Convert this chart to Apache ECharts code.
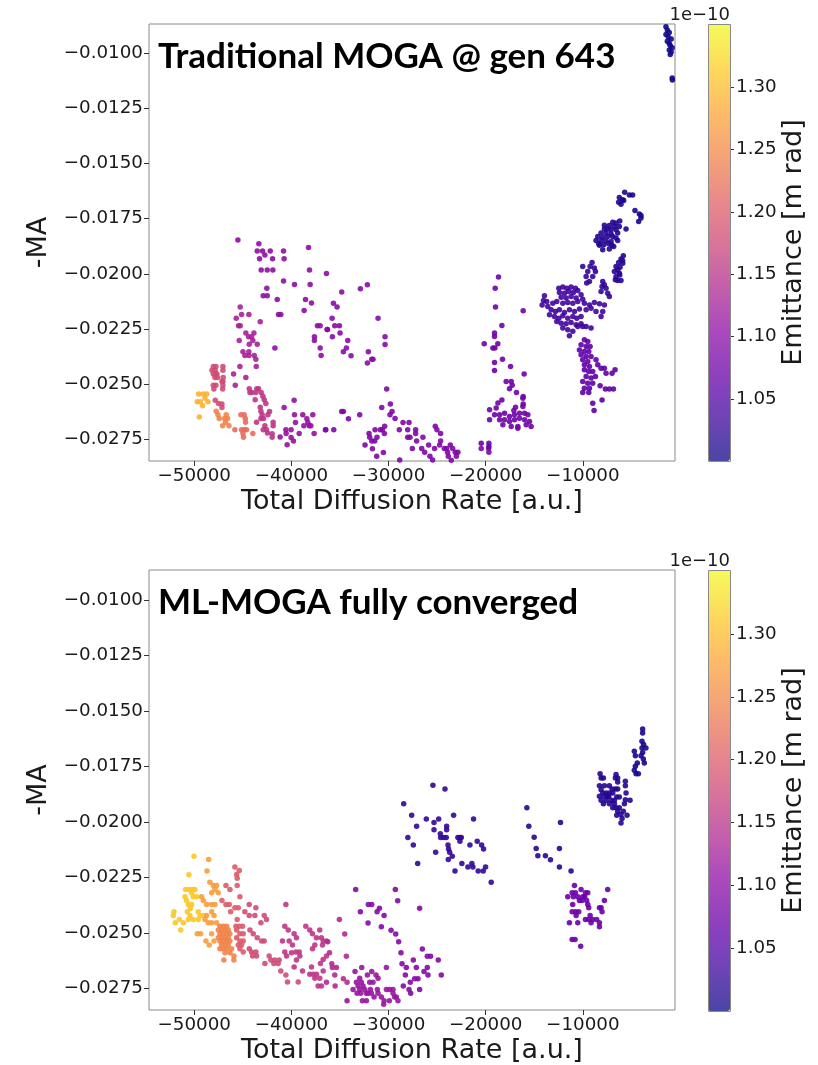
<!DOCTYPE html>
<html><head><meta charset="utf-8">
<script src="https://cdn.jsdelivr.net/npm/echarts@6/dist/echarts.min.js"></script>
<style>html,body{margin:0;padding:0;background:#fff}#c{width:818px;height:1065px}</style>
</head><body><div id="c"></div>
<script>
// ---------- tick labels ----------
const xTicks = [-50000, -40000, -30000, -20000, -10000];
const yTicks = [-0.0100, -0.0125, -0.0150, -0.0175, -0.0200, -0.0225, -0.0250, -0.0275];
const cbTicks = [1.05, 1.10, 1.15, 1.20, 1.25, 1.30];
const titles = ['Traditional MOGA @ gen 643', 'ML-MOGA fully converged'];
const xName = 'Total Diffusion Rate [a.u.]';
const yName = '-MA';
const cbName = 'Emittance [m rad]';
const cbExp = '1e\u221210';
const xRange = [-54660, -510];
const yRangeTop = [-0.02849, -0.00867];
const yRangeBot = [-0.02848, -0.00865];
const emitRange = [1.0003, 1.3508];

// ---------- TOP panel clusters: [x, y], emittance (x1e-10) per cluster ----------
const topCorner = [[-1440,-0.00880],[-1300,-0.00894],[-1100,-0.00905],[-1440,-0.00915],[-1200,-0.00926],[-900,-0.00935],[-1300,-0.00945],[-1100,-0.00955],[-1000,-0.00965],[-800,-0.00975],[-1100,-0.00985],[-900,-0.00994],[-1000,-0.01005],[-800,-0.01112],[-780,-0.01121]];
const topCornerE = 1.004;
const topBlueTop = [[-5690,-0.01630],[-5210,-0.01642],[-4870,-0.01642],[-6240,-0.01654],[-5890,-0.01664],[-6310,-0.01676],[-6070,-0.01684],[-5790,-0.01667],[-4630,-0.01713],[-4180,-0.01729],[-4010,-0.01747],[-4250,-0.01763],[-4010,-0.01735]];
const topBlueTopE = 1.010;
const topBlueUpper = [[-6920,-0.01766],[-6580,-0.01770],[-7270,-0.01781],[-6750,-0.01785],[-6240,-0.01785],[-7780,-0.01797],[-7440,-0.01797],[-7090,-0.01800],[-6580,-0.01800],[-8120,-0.01815],[-7610,-0.01815],[-7090,-0.01819],[-6410,-0.01815],[-8460,-0.01831],[-7950,-0.01834],[-7440,-0.01831],[-6920,-0.01831],[-6580,-0.01838],[-8640,-0.01849],[-8120,-0.01849],[-7610,-0.01850],[-7090,-0.01853],[-6410,-0.01849],[-8360,-0.01864],[-7850,-0.01868],[-7330,-0.01864],[-6820,-0.01876],[-7950,-0.01891],[-7270,-0.01887],[-5550,-0.01797],[-7780,-0.01780],[-8290,-0.01870],[-7000,-0.01870],[-6200,-0.01760]];
const topBlueUpperE = 1.015;
const topBlueColumn = [[-5830,-0.01918],[-6070,-0.01933],[-6310,-0.01949],[-5890,-0.01952],[-6580,-0.01967],[-6170,-0.01970],[-6410,-0.01982],[-6750,-0.01989],[-6240,-0.01997],[-6580,-0.02012],[-6070,-0.02030],[-6410,-0.02030],[-6650,-0.02027],[-5900,-0.01940],[-6200,-0.02005]];
const topBlueColumnE = 1.018;
const topBlueDiag = [[-9050,-0.01949],[-10010,-0.01967],[-9250,-0.01967],[-8810,-0.01974],[-9490,-0.01989],[-8700,-0.01989],[-9660,-0.02012],[-8980,-0.02012],[-9320,-0.02035],[-7950,-0.02035],[-7780,-0.02050],[-8020,-0.02057],[-7610,-0.02065],[-8120,-0.02080],[-7440,-0.02088],[-7270,-0.02103],[-9600,-0.02042]];
const topBlueDiagE = 1.025;
const topBlueMain = [[-12470,-0.02065],[-12060,-0.02060],[-11650,-0.02065],[-11210,-0.02060],[-10760,-0.02065],[-12410,-0.02085],[-11890,-0.02088],[-11450,-0.02080],[-10970,-0.02085],[-10520,-0.02076],[-10180,-0.02095],[-12230,-0.02106],[-11720,-0.02110],[-11210,-0.02103],[-10690,-0.02110],[-10010,-0.02115],[-13950,-0.02100],[-14050,-0.02121],[-13710,-0.02126],[-14190,-0.02141],[-13610,-0.02148],[-13090,-0.02133],[-12680,-0.02126],[-12060,-0.02133],[-11550,-0.02130],[-11030,-0.02133],[-10520,-0.02126],[-9840,-0.02133],[-9320,-0.02141],[-8810,-0.02130],[-8290,-0.02136],[-7780,-0.02141],[-13260,-0.02163],[-12820,-0.02171],[-12410,-0.02163],[-11890,-0.02175],[-11380,-0.02163],[-10860,-0.02171],[-10350,-0.02160],[-9660,-0.02163],[-9150,-0.02156],[-8640,-0.02171],[-7950,-0.02171],[-8120,-0.02194],[-13430,-0.02186],[-12920,-0.02194],[-12470,-0.02201],[-12060,-0.02190],[-11550,-0.02201],[-11030,-0.02194],[-10620,-0.02201],[-10180,-0.02194],[-12680,-0.02216],[-12230,-0.02224],[-11720,-0.02227],[-11210,-0.02221],[-10690,-0.02231],[-10180,-0.02227],[-9660,-0.02239],[-9150,-0.02246],[-12060,-0.02246],[-11550,-0.02254],[-11030,-0.02261],[-11380,-0.02281],[-10520,-0.02239],[-10010,-0.02239]];
const topBlueMainE = 1.035;
const topPurpleVert = [[-9840,-0.02299],[-9490,-0.02307],[-10180,-0.02322],[-9660,-0.02330],[-9250,-0.02330],[-10350,-0.02345],[-9840,-0.02352],[-9390,-0.02352],[-10180,-0.02367],[-9660,-0.02375],[-9150,-0.02375],[-10010,-0.02390],[-9490,-0.02398],[-8640,-0.02390],[-9840,-0.02413],[-9320,-0.02420],[-8460,-0.02413],[-8120,-0.02428],[-7780,-0.02428],[-9840,-0.02435],[-9390,-0.02443],[-8980,-0.02443],[-7610,-0.02451],[-6990,-0.02451],[-6680,-0.02435],[-9660,-0.02466],[-9150,-0.02473],[-8700,-0.02466],[-10010,-0.02488],[-9490,-0.02496],[-8980,-0.02496],[-9840,-0.02519],[-9320,-0.02519],[-8220,-0.02508],[-7680,-0.02523],[-7270,-0.02523],[-6850,-0.02523],[-10010,-0.02538],[-9390,-0.02538],[-8980,-0.02587],[-8020,-0.02572],[-8840,-0.02620]];
const topPurpleVertE = 1.06;
const topPurpleCol = [[-18680,-0.02015],[-19020,-0.02066],[-18990,-0.02150],[-16140,-0.02168],[-18330,-0.02234],[-19090,-0.02269],[-19090,-0.02284],[-18750,-0.02317],[-19260,-0.02337],[-19050,-0.02337],[-20150,-0.02317],[-19090,-0.02402],[-18270,-0.02387],[-17440,-0.02420],[-19090,-0.02438],[-16040,-0.02454],[-17890,-0.02488],[-17370,-0.02488],[-17550,-0.02521],[-17270,-0.02505],[-16830,-0.02538],[-18330,-0.02572],[-16140,-0.02556],[-16140,-0.02590],[-16930,-0.02605],[-17100,-0.02620],[-18740,-0.02586],[-18920,-0.02609],[-19600,-0.02617],[-19090,-0.02639],[-18570,-0.02639],[-18060,-0.02632],[-17550,-0.02647],[-17030,-0.02639],[-16520,-0.02632],[-16000,-0.02632],[-15660,-0.02639],[-18570,-0.02662],[-18060,-0.02662],[-17550,-0.02670],[-17030,-0.02662],[-16520,-0.02655],[-16000,-0.02662],[-15490,-0.02670],[-18230,-0.02685],[-17370,-0.02692],[-16690,-0.02692],[-15830,-0.02685],[-15320,-0.02692],[-19600,-0.02662],[-16170,-0.02602],[-16170,-0.02564],[-16690,-0.02700],[-20460,-0.02768],[-19670,-0.02768],[-19670,-0.02783]];
const topPurpleColE = 1.075;
const topPurpleBottom = [[-30190,-0.02523],[-29810,-0.02590],[-30700,-0.02606],[-29850,-0.02639],[-29640,-0.02624],[-29330,-0.02656],[-34820,-0.02624],[-34650,-0.02624],[-32970,-0.02639],[-34130,-0.02657],[-36460,-0.02707],[-35640,-0.02707],[-30400,-0.02691],[-28510,-0.02674],[-27890,-0.02674],[-28890,-0.02707],[-28030,-0.02707],[-27210,-0.02707],[-32010,-0.02724],[-31390,-0.02707],[-30840,-0.02707],[-30640,-0.02707],[-30430,-0.02724],[-31940,-0.02741],[-31190,-0.02741],[-31730,-0.02758],[-31420,-0.02758],[-32420,-0.02776],[-31660,-0.02794],[-30530,-0.02810],[-31220,-0.02827],[-28030,-0.02741],[-27790,-0.02741],[-27210,-0.02724],[-27110,-0.02758],[-26460,-0.02741],[-27550,-0.02792],[-26590,-0.02792],[-26280,-0.02809],[-25740,-0.02827],[-25460,-0.02844],[-25870,-0.02776],[-25260,-0.02792],[-24740,-0.02776],[-24640,-0.02758],[-25190,-0.02691],[-25020,-0.02707],[-24640,-0.02724],[-24260,-0.02792],[-24020,-0.02792],[-23920,-0.02809],[-23640,-0.02776],[-23400,-0.02792],[-23130,-0.02809],[-22860,-0.02809],[-23540,-0.02846],[-23850,-0.02827],[-23020,-0.02827],[-20460,-0.02792],[-19700,-0.02792],[-19670,-0.02809],[-28850,-0.02845]];
const topPurpleBottomE = 1.09;
const topPurpleMid = [[-36390,-0.01999],[-32180,-0.02050],[-32900,-0.02068],[-34820,-0.02083],[-35670,-0.02133],[-35300,-0.02151],[-35810,-0.02201],[-36290,-0.02253],[-35540,-0.02236],[-35060,-0.02236],[-34990,-0.02269],[-35780,-0.02286],[-34200,-0.02302],[-34340,-0.02337],[-34650,-0.02354],[-33860,-0.02372],[-31080,-0.02201],[-30360,-0.02286],[-30360,-0.02321],[-32080,-0.02354],[-31730,-0.02387],[-31600,-0.02387],[-32180,-0.02404]];
const topPurpleMidE = 1.10;
const topPurpleUpper = [[-45510,-0.01847],[-43350,-0.01864],[-43520,-0.01897],[-42970,-0.01897],[-42730,-0.01915],[-42180,-0.01897],[-40810,-0.01897],[-43280,-0.01932],[-41940,-0.01932],[-40750,-0.01932],[-38240,-0.01881],[-43110,-0.01983],[-42490,-0.01983],[-41910,-0.01983],[-38140,-0.01983],[-40810,-0.02033],[-39680,-0.02048],[-38070,-0.02048],[-42530,-0.02066],[-42900,-0.02100],[-42490,-0.02100],[-41460,-0.02116],[-38550,-0.02116],[-37930,-0.02132],[-38690,-0.02166],[-41330,-0.02185],[-41090,-0.02185],[-37320,-0.02236],[-37040,-0.02236],[-36320,-0.02253],[-37630,-0.02286],[-37630,-0.02302],[-41700,-0.02336],[-37040,-0.02336],[-36940,-0.02370]];
const topPurpleUpperE = 1.105;
const topPurpleLow = [[-40750,-0.02606],[-39720,-0.02573],[-39680,-0.02639],[-38830,-0.02639],[-37800,-0.02639],[-39580,-0.02674],[-38410,-0.02657],[-38310,-0.02674],[-38170,-0.02689],[-40570,-0.02707],[-40540,-0.02724],[-40030,-0.02707],[-39200,-0.02724],[-38720,-0.02689],[-38000,-0.02689],[-37660,-0.02724],[-36500,-0.02707],[-40030,-0.02742],[-39790,-0.02758],[-40440,-0.02775],[-41160,-0.02740]];
const topPurpleLowE = 1.11;
const topMagenta = [[-45270,-0.02151],[-45130,-0.02185],[-44380,-0.02185],[-45680,-0.02201],[-43210,-0.02218],[-45440,-0.02236],[-45270,-0.02236],[-44690,-0.02269],[-44410,-0.02286],[-43860,-0.02269],[-44100,-0.02286],[-45370,-0.02302],[-43970,-0.02302],[-44340,-0.02319],[-43520,-0.02319],[-44990,-0.02354],[-44380,-0.02354],[-44790,-0.02370],[-44380,-0.02370],[-43830,-0.02370],[-43660,-0.02387],[-45300,-0.02420],[-43620,-0.02420],[-45950,-0.02454],[-44690,-0.02470],[-45780,-0.02505]];
const topMagentaE = 1.13;
const topMagRed = [[-44340,-0.02521],[-43560,-0.02521],[-43380,-0.02521],[-44070,-0.02538],[-43660,-0.02538],[-44270,-0.02538],[-43110,-0.02538],[-42940,-0.02555],[-42800,-0.02571],[-42630,-0.02588],[-43730,-0.02571],[-43210,-0.02605],[-43140,-0.02623],[-43010,-0.02639],[-42420,-0.02639],[-42250,-0.02624],[-43140,-0.02656],[-42870,-0.02656],[-41880,-0.02673],[-41880,-0.02689],[-42730,-0.02689],[-42560,-0.02707],[-42900,-0.02707],[-42460,-0.02722],[-43590,-0.02673],[-41980,-0.02725],[-41980,-0.02741]];
const topMagRedE = 1.155;
const topRed = [[-48040,-0.02420],[-47770,-0.02420],[-47050,-0.02420],[-48180,-0.02437],[-47840,-0.02437],[-47050,-0.02437],[-48040,-0.02454],[-47770,-0.02454],[-47670,-0.02454],[-47870,-0.02470],[-47600,-0.02470],[-47020,-0.02470],[-47150,-0.02488],[-47050,-0.02488],[-48040,-0.02505],[-47770,-0.02505],[-47050,-0.02505],[-47980,-0.02522],[-47080,-0.02522],[-47840,-0.02573],[-47500,-0.02588],[-47150,-0.02590],[-47150,-0.02606]];
const topRedE = 1.18;
const topOrangeB = [[-45820,-0.02707],[-45200,-0.02639],[-44860,-0.02639],[-44750,-0.02656],[-44720,-0.02673],[-45130,-0.02707],[-44860,-0.02707],[-44620,-0.02707],[-44990,-0.02724],[-44930,-0.02741],[-43970,-0.02724]];
const topOrangeBE = 1.22;
const topOrange = [[-47740,-0.02623],[-47560,-0.02639],[-47430,-0.02656],[-46710,-0.02639],[-46880,-0.02656],[-46570,-0.02656],[-47080,-0.02689],[-46430,-0.02689],[-46780,-0.02673]];
const topOrangeE = 1.245;
const topYellow = [[-49550,-0.02545],[-49070,-0.02545],[-48730,-0.02545],[-49690,-0.02580],[-49380,-0.02580],[-49140,-0.02598],[-48590,-0.02580],[-48900,-0.02564],[-49480,-0.02650]];
const topYellowE = 1.29;

// ---------- BOTTOM panel clusters ----------
const botYellow = [[-50030,-0.02155],[-50550,-0.02239],[-50890,-0.02305],[-50550,-0.02305],[-50170,-0.02305],[-49930,-0.02305],[-50960,-0.02338],[-50270,-0.02320],[-50100,-0.02338],[-49760,-0.02338],[-50610,-0.02372],[-50270,-0.02372],[-52090,-0.02405],[-52160,-0.02422],[-50720,-0.02405],[-50440,-0.02422],[-49590,-0.02405],[-49410,-0.02422],[-49070,-0.02422],[-51950,-0.02455],[-51540,-0.02440],[-51130,-0.02455],[-51400,-0.02488],[-50610,-0.02440],[-50100,-0.02440],[-49590,-0.02440],[-50400,-0.02390],[-50800,-0.02355]];
const botYellowE = 1.31;
const botOrangeLight = [[-48520,-0.02170],[-48690,-0.02221],[-48390,-0.02272],[-48040,-0.02287],[-47700,-0.02287],[-47870,-0.02305],[-48210,-0.02320],[-47530,-0.02320],[-49240,-0.02338],[-49070,-0.02354],[-48730,-0.02372],[-48210,-0.02372],[-47870,-0.02372],[-48730,-0.02422],[-48210,-0.02405],[-47970,-0.02422],[-48900,-0.02440],[-48560,-0.02455],[-48210,-0.02455],[-47700,-0.02455],[-49690,-0.02504],[-49350,-0.02504],[-48210,-0.02504],[-48800,-0.02537],[-48460,-0.02555],[-47970,-0.02537]];
const botOrangeLightE = 1.27;
const botOrange = [[-47360,-0.02470],[-47020,-0.02470],[-46670,-0.02470],[-47530,-0.02488],[-47190,-0.02488],[-46840,-0.02488],[-46500,-0.02488],[-47360,-0.02504],[-47020,-0.02504],[-46670,-0.02504],[-46330,-0.02504],[-47530,-0.02522],[-47190,-0.02522],[-46840,-0.02522],[-46500,-0.02522],[-47360,-0.02537],[-47020,-0.02537],[-46670,-0.02537],[-46330,-0.02537],[-47190,-0.02555],[-46840,-0.02555],[-46500,-0.02555],[-47360,-0.02572],[-47020,-0.02572],[-46670,-0.02572],[-46160,-0.02572],[-46840,-0.02590],[-46330,-0.02590],[-46950,-0.02623],[-45920,-0.02605],[-45920,-0.02623]];
const botOrangeE = 1.245;
const botPink = [[-45820,-0.02203],[-45370,-0.02219],[-45640,-0.02237],[-45580,-0.02254],[-46740,-0.02287],[-46330,-0.02305],[-45580,-0.02287],[-47150,-0.02354],[-46740,-0.02372],[-46400,-0.02372],[-45820,-0.02387],[-45470,-0.02387],[-45300,-0.02338],[-46260,-0.02405],[-45580,-0.02440],[-45710,-0.02470],[-45370,-0.02470],[-45030,-0.02470],[-45640,-0.02488],[-45300,-0.02504],[-44960,-0.02504],[-45640,-0.02522],[-45300,-0.02537],[-44960,-0.02537],[-45470,-0.02555],[-45130,-0.02555],[-45300,-0.02572],[-44960,-0.02587]];
const botPinkE = 1.20;
const botPinkRed = [[-44340,-0.02372],[-43660,-0.02387],[-44790,-0.02405],[-44340,-0.02422],[-43760,-0.02422],[-43140,-0.02455],[-42800,-0.02422],[-42560,-0.02440],[-44270,-0.02488],[-43930,-0.02504],[-43520,-0.02522],[-43070,-0.02537],[-42800,-0.02537],[-44340,-0.02572],[-44100,-0.02587],[-43660,-0.02587],[-44000,-0.02605],[-43590,-0.02605],[-42290,-0.02605],[-42110,-0.02623],[-41700,-0.02623],[-41260,-0.02623],[-42730,-0.02638],[-41810,-0.02638],[-41090,-0.02672],[-40570,-0.02690],[-40400,-0.02722],[-39300,-0.02722],[-41360,-0.02638]];
const botPinkRedE = 1.18;
const botMagenta = [[-40570,-0.02372],[-40680,-0.02470],[-40330,-0.02488],[-39720,-0.02504],[-39480,-0.02522],[-40920,-0.02537],[-40230,-0.02537],[-39890,-0.02555],[-40680,-0.02587],[-40500,-0.02605],[-39990,-0.02590],[-39540,-0.02587],[-39200,-0.02587],[-39130,-0.02605],[-39480,-0.02623],[-39720,-0.02654],[-38860,-0.02672],[-38520,-0.02470],[-38110,-0.02488],[-37830,-0.02504],[-37080,-0.02488],[-36910,-0.02522],[-37420,-0.02522],[-36730,-0.02537],[-37590,-0.02555],[-36800,-0.02555],[-37830,-0.02572],[-36390,-0.02605],[-36730,-0.02620],[-37010,-0.02638],[-37930,-0.02654],[-36730,-0.02672],[-38110,-0.02687],[-37760,-0.02687],[-37420,-0.02687],[-37080,-0.02705],[-37590,-0.02705],[-37250,-0.02740],[-36910,-0.02740],[-36390,-0.02537]];
const botMagentaE = 1.155;
const botMagenta2 = [[-35060,-0.02440],[-34510,-0.02506],[-36260,-0.02540],[-36080,-0.02590],[-34340,-0.02606],[-35840,-0.02639],[-35370,-0.02657],[-35780,-0.02657],[-36390,-0.02723],[-35540,-0.02690],[-34650,-0.02707],[-34270,-0.02723],[-35500,-0.02740]];
const botMagenta2E = 1.14;
const botPurpleLow = [[-33650,-0.02756],[-33310,-0.02723],[-33140,-0.02740],[-32970,-0.02756],[-32800,-0.02723],[-32620,-0.02740],[-32450,-0.02756],[-32280,-0.02773],[-33240,-0.02773],[-32860,-0.02773],[-32110,-0.02773],[-31870,-0.02756],[-31770,-0.02773],[-31490,-0.02789],[-31150,-0.02756],[-30740,-0.02789],[-30220,-0.02756],[-29880,-0.02756],[-29540,-0.02756],[-29540,-0.02773],[-29370,-0.02789],[-29200,-0.02789],[-29030,-0.02806],[-30460,-0.02806],[-29920,-0.02806],[-32280,-0.02806],[-32690,-0.02806],[-30500,-0.02822],[-34270,-0.02806],[-31600,-0.02723],[-31940,-0.02723],[-31080,-0.02773],[-33450,-0.02674],[-32180,-0.02690],[-32970,-0.02705],[-32760,-0.02657],[-31730,-0.02674],[-31290,-0.02690],[-31080,-0.02705],[-30220,-0.02657]];
const botPurpleLowE = 1.115;
const botPurple = [[-33380,-0.02305],[-29300,-0.02305],[-29060,-0.02356],[-26800,-0.02389],[-32080,-0.02372],[-31730,-0.02372],[-30940,-0.02389],[-32900,-0.02405],[-31180,-0.02405],[-30460,-0.02422],[-32110,-0.02456],[-30740,-0.02473],[-29740,-0.02489],[-29260,-0.02506],[-28960,-0.02540],[-28720,-0.02590],[-28610,-0.02639],[-26520,-0.02573],[-27450,-0.02623],[-26010,-0.02606],[-25670,-0.02606],[-24880,-0.02623],[-28170,-0.02657],[-27140,-0.02657],[-26010,-0.02657],[-26350,-0.02674],[-28270,-0.02690],[-25940,-0.02690],[-24570,-0.02690],[-27310,-0.02707],[-26970,-0.02707],[-27760,-0.02723],[-28480,-0.02740],[-27890,-0.02756],[-27720,-0.02773],[-26800,-0.02756]];
const botPurpleE = 1.095;
const botBlueMid = [[-25430,-0.01835],[-24190,-0.01852],[-28440,-0.01919],[-27620,-0.01970],[-26110,-0.01987],[-25320,-0.02003],[-24840,-0.01987],[-23300,-0.01970],[-21250,-0.01987],[-27110,-0.02020],[-25320,-0.02036],[-24020,-0.02020],[-24020,-0.02036],[-24670,-0.02054],[-24640,-0.02071],[-24330,-0.02071],[-24060,-0.02071],[-22860,-0.02071],[-22650,-0.02071],[-22510,-0.02071],[-22650,-0.02087],[-28010,-0.02071],[-27450,-0.02104],[-23880,-0.02104],[-23820,-0.02122],[-23710,-0.02137],[-23440,-0.02155],[-23850,-0.02170],[-25150,-0.02137],[-21620,-0.02104],[-20870,-0.02087],[-20420,-0.02104],[-20220,-0.02122],[-22450,-0.02188],[-21830,-0.02204],[-21420,-0.02188],[-21310,-0.02204],[-20770,-0.02221],[-20250,-0.02221],[-20010,-0.02204],[-23160,-0.02221],[-27000,-0.02188],[-19430,-0.02272]];
const botBlueMidE = 1.025;
const botBlueChain = [[-15760,-0.01936],[-15560,-0.02020],[-12300,-0.02003],[-15010,-0.02069],[-14800,-0.02120],[-14630,-0.02153],[-13850,-0.02153],[-13330,-0.02171],[-12410,-0.02120],[-12410,-0.02204],[-11210,-0.02221]];
const botBlueChainE = 1.018;
const botBlueTop = [[-3840,-0.01582],[-3840,-0.01600],[-3910,-0.01637],[-3740,-0.01652],[-3500,-0.01667],[-3910,-0.01667],[-3840,-0.01687],[-4010,-0.01702],[-3770,-0.01717],[-3670,-0.01735],[-4700,-0.01682],[-4590,-0.01702],[-4390,-0.01735],[-4590,-0.01750],[-4700,-0.01768],[-4520,-0.01783],[-4280,-0.01783]];
const botBlueTopE = 1.008;
const botBlueBlob = [[-8220,-0.01783],[-6580,-0.01787],[-8120,-0.01802],[-7880,-0.01802],[-6650,-0.01802],[-6410,-0.01802],[-6410,-0.01820],[-5620,-0.01817],[-8290,-0.01837],[-7780,-0.01837],[-7270,-0.01837],[-6990,-0.01852],[-6650,-0.01852],[-6410,-0.01852],[-5620,-0.01837],[-7950,-0.01870],[-7610,-0.01870],[-7270,-0.01870],[-6920,-0.01870],[-8290,-0.01885],[-7780,-0.01885],[-7330,-0.01885],[-6510,-0.01888],[-6240,-0.01888],[-5550,-0.01870],[-8120,-0.01903],[-7610,-0.01903],[-7090,-0.01903],[-6750,-0.01903],[-5620,-0.01900],[-5140,-0.01903],[-7880,-0.01918],[-7270,-0.01918],[-6750,-0.01918],[-5720,-0.01918],[-6920,-0.01937],[-6580,-0.01937],[-6240,-0.01937],[-6410,-0.01952],[-5830,-0.01952],[-6070,-0.01967],[-5450,-0.01970],[-6510,-0.01970],[-5960,-0.01985],[-6070,-0.02005],[-7440,-0.01885],[-8120,-0.01855]];
const botBlueBlobE = 1.015;
const botPurpleRight = [[-10860,-0.02287],[-10180,-0.02305],[-7440,-0.02305],[-11100,-0.02320],[-10760,-0.02320],[-9730,-0.02320],[-9490,-0.02320],[-11550,-0.02338],[-10970,-0.02338],[-10520,-0.02338],[-10010,-0.02338],[-9800,-0.02338],[-10350,-0.02354],[-10080,-0.02354],[-9600,-0.02354],[-7780,-0.02354],[-9490,-0.02372],[-11040,-0.02372],[-9390,-0.02387],[-8290,-0.02387],[-8120,-0.02387],[-11100,-0.02405],[-10760,-0.02405],[-10420,-0.02405],[-8020,-0.02405],[-10690,-0.02422],[-9250,-0.02422],[-9730,-0.02440],[-9390,-0.02440],[-8980,-0.02440],[-8570,-0.02440],[-11380,-0.02455],[-10520,-0.02455],[-9150,-0.02455],[-8290,-0.02455],[-8290,-0.02473],[-11100,-0.02530],[-10800,-0.02530],[-10220,-0.02561]];
const botPurpleRightE = 1.07;

// plasma colormap stops
const plasma = ['#0d0887','#41049d','#6a00a8','#8f0da4','#b12a90','#cc4778','#e16462','#f2844b','#fca636','#fcce25','#f0f921'];

// ---------- build ----------
function withE(pts, e){ return pts.map(p => [p[0], p[1], e]); }
const topData = [].concat(
  withE(topYellow, topYellowE), withE(topOrange, topOrangeE), withE(topOrangeB, topOrangeBE),
  withE(topRed, topRedE), withE(topMagRed, topMagRedE), withE(topMagenta, topMagentaE),
  withE(topPurpleLow, topPurpleLowE), withE(topPurpleUpper, topPurpleUpperE), withE(topPurpleMid, topPurpleMidE),
  withE(topPurpleBottom, topPurpleBottomE), withE(topPurpleCol, topPurpleColE), withE(topPurpleVert, topPurpleVertE),
  withE(topBlueMain, topBlueMainE), withE(topBlueDiag, topBlueDiagE), withE(topBlueColumn, topBlueColumnE),
  withE(topBlueUpper, topBlueUpperE), withE(topBlueTop, topBlueTopE), withE(topCorner, topCornerE)
);
const botData = [].concat(
  withE(botYellow, botYellowE), withE(botOrangeLight, botOrangeLightE), withE(botOrange, botOrangeE),
  withE(botPink, botPinkE), withE(botPinkRed, botPinkRedE), withE(botMagenta, botMagentaE),
  withE(botMagenta2, botMagenta2E), withE(botPurpleLow, botPurpleLowE), withE(botPurple, botPurpleE),
  withE(botPurpleRight, botPurpleRightE), withE(botBlueMid, botBlueMidE), withE(botBlueChain, botBlueChainE),
  withE(botBlueBlob, botBlueBlobE), withE(botBlueTop, botBlueTopE)
);

function fade(hex, a){
  const r = parseInt(hex.slice(1,3),16), g = parseInt(hex.slice(3,5),16), b = parseInt(hex.slice(5,7),16);
  const f = c => Math.round(a*c + (1-a)*255);
  return 'rgb(' + f(r) + ',' + f(g) + ',' + f(b) + ')';
}
const plasmaFaded = plasma.map(c => fade(c, 0.75));

const FONT = 'DejaVu Sans';
const TXT = '#1a1a1a';
const TICKFS = 18.3;
const minus = v => (v < 0 ? '\u2212' : '') + Math.abs(v);
const panels = [
  {top: 24, height: 437, yr: yRangeTop, data: topData, title: titles[0]},
  {top: 570, height: 441, yr: yRangeBot, data: botData, title: titles[1]}
];
const PL = 149, PW = 526, CBL = 708, CBW = 22;

const option = {animation: false, backgroundColor: '#fff', grid: [], xAxis: [], yAxis: [], series: [], visualMap: [], title: [], graphic: []};
panels.forEach((p, i) => {
  const gi = option.grid.length;
  option.grid.push({left: PL, top: p.top, width: PW, height: p.height, show: true, borderColor: '#8a8a8a', borderWidth: 1, backgroundColor: 'transparent'});
  option.xAxis.push({type: 'value', gridIndex: gi, min: xRange[0], max: xRange[1], splitLine: {show: false},
    axisLine: {show: false, onZero: false},
    axisTick: {show: true, length: 5, lineStyle: {color: '#333'}, customValues: xTicks},
    axisLabel: {margin: 6, fontFamily: FONT, fontSize: TICKFS, color: TXT, customValues: xTicks, formatter: v => minus(v)},
    name: xName, nameLocation: 'middle', nameGap: 27, nameTextStyle: {fontFamily: FONT, fontSize: 27, color: TXT}});
  option.yAxis.push({type: 'value', gridIndex: gi, min: p.yr[0], max: p.yr[1], splitLine: {show: false},
    axisLine: {show: false, onZero: false},
    axisTick: {show: true, length: 5, lineStyle: {color: '#333'}, customValues: yTicks},
    axisLabel: {margin: 6, fontFamily: FONT, fontSize: TICKFS, color: TXT, customValues: yTicks, formatter: v => '\u2212' + Math.abs(v).toFixed(4)},
    name: yName, nameLocation: 'middle', nameGap: 91, nameRotate: 90, nameTextStyle: {fontFamily: FONT, fontSize: 27, color: TXT}});
  const si = option.series.length;
  option.series.push({type: 'scatter', xAxisIndex: gi, yAxisIndex: gi, data: p.data, symbolSize: 5.5, itemStyle: {opacity: 0.9}, clip: true});
  // colorbar grid (ticks + label)
  const ci = option.grid.length;
  option.grid.push({left: CBL, top: p.top, width: CBW, height: p.height, show: false});
  option.xAxis.push({type: 'value', gridIndex: ci, show: false, min: 0, max: 1});
  option.yAxis.push({type: 'value', gridIndex: ci, position: 'right', min: emitRange[0], max: emitRange[1], splitLine: {show: false},
    axisLine: {show: false, onZero: false},
    axisTick: {show: true, length: 4, lineStyle: {color: '#333'}, customValues: cbTicks},
    axisLabel: {margin: 6, fontFamily: FONT, fontSize: TICKFS, color: TXT, customValues: cbTicks, formatter: v => v.toFixed(2)},
    name: cbName, nameLocation: 'middle', nameGap: 50, nameRotate: 90, nameTextStyle: {fontFamily: FONT, fontSize: 27, color: TXT}});
  option.visualMap.push({type: 'continuous', seriesIndex: si, dimension: 2, min: emitRange[0], max: emitRange[1],
    inRange: {color: plasma}, controller: {inRange: {color: plasmaFaded}},
    left: CBL, top: p.top, itemWidth: CBW, itemHeight: p.height, padding: 0, calculable: false, hoverLink: false, text: null, showLabel: false, realtime: false});
  option.graphic.push({type: 'rect', shape: {x: CBL + 0.5, y: p.top + 0.5, width: CBW, height: p.height}, style: {fill: 'none', stroke: '#8a8a8a', lineWidth: 1}, z: 100, silent: true});
  option.graphic.push({type: 'text', x: CBL + CBW, y: p.top - 9, style: {text: cbExp, font: '18px "DejaVu Sans"', fill: TXT, textAlign: 'right', textVerticalAlign: 'middle'}, z: 100});
  option.title.push({text: p.title, left: 158, top: p.top + 15, padding: 0, textStyle: {fontFamily: 'Lato', fontWeight: 'bold', fontSize: 35, color: '#000'}});
});

const chart = echarts.init(document.getElementById('c'), null, {renderer: 'canvas'});
chart.setOption(option);
</script></body></html>
